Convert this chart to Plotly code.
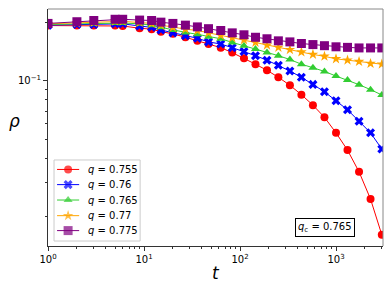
import plotly.graph_objects as go

t = [1, 2, 3, 5, 6, 9, 12, 15, 20, 27, 36, 47, 63, 83, 110, 145, 191, 251, 331, 436, 575, 758, 1000, 1318, 1738, 2290, 3000]

rho_0755 = [0.193, 0.193, 0.193, 0.193, 0.192, 0.187, 0.185, 0.1795, 0.175, 0.168, 0.161, 0.155, 0.1485, 0.140, 0.131, 0.122, 0.1135, 0.1045, 0.095, 0.085, 0.075, 0.065, 0.054, 0.044, 0.034, 0.0246, 0.0161]
rho_0760 = [0.194, 0.1955, 0.1955, 0.197, 0.197, 0.192, 0.189, 0.183, 0.177, 0.171, 0.166, 0.159, 0.155, 0.1485, 0.142, 0.135, 0.128, 0.1205, 0.1125, 0.1045, 0.096, 0.088, 0.079, 0.071, 0.062, 0.054, 0.0446]
rho_0765 = [0.1955, 0.197, 0.198, 0.199, 0.199, 0.197, 0.194, 0.189, 0.183, 0.178, 0.174, 0.169, 0.165, 0.158, 0.152, 0.146, 0.140, 0.135, 0.129, 0.122, 0.117, 0.112, 0.106, 0.101, 0.0957, 0.0902, 0.0847]
rho_0770 = [0.197, 0.199, 0.200, 0.203, 0.203, 0.200, 0.198, 0.194, 0.189, 0.185, 0.182, 0.177, 0.172, 0.167, 0.163, 0.158, 0.153, 0.149, 0.145, 0.141, 0.137, 0.134, 0.130, 0.128, 0.126, 0.123, 0.122]
rho_0775 = [0.198, 0.202, 0.205, 0.208, 0.208, 0.206, 0.205, 0.201, 0.198, 0.194, 0.190, 0.186, 0.182, 0.177, 0.173, 0.168, 0.165, 0.161, 0.159, 0.156, 0.154, 0.152, 0.150, 0.149, 0.148, 0.148, 0.148]

q_labels = ["0.755", "0.76", "0.765", "0.77", "0.775"]
series = [rho_0755, rho_0760, rho_0765, rho_0770, rho_0775]
colors = ["#ff0000", "#0000ff", "#32cd32", "#ffa500", "#800080"]
symbols = ["circle", "x", "triangle-up", "star", "square"]
sizes = [8, 8, 8, 8, 9]

x_major = [1, 10, 100, 1000]
x_major_text = ["10<sup>0</sup>", "10<sup>1</sup>", "10<sup>2</sup>", "10<sup>3</sup>"]
y_major = [0.1]
y_major_text = ["10<sup>\u22121</sup>"]

fig = go.Figure()
for q, ys, c, s, sz in zip(q_labels, series, colors, symbols, sizes):
    fig.add_trace(go.Scatter(
        x=t, y=ys, mode="lines+markers", name=f"<i>q</i> = {q}", showlegend=False,
        line=dict(color=c, width=1),
        marker=dict(color=c, symbol=s, size=sz, line=dict(width=0)),
    ))

# ---- compact legend drawn on an overlay axis spanning the plot area (0..1 fractions) ----
LEG_X0, LEG_X1, LEG_Y0, LEG_Y1 = 0.018, 0.275, 0.021, 0.363
SAMPLE_X = [0.027, 0.060, 0.093]
TEXT_X = 0.113
ROW_Y = [0.323, 0.259, 0.194, 0.128, 0.065]

fig.add_trace(go.Scatter(
    x=[LEG_X0, LEG_X1, LEG_X1, LEG_X0, LEG_X0], y=[LEG_Y0, LEG_Y0, LEG_Y1, LEG_Y1, LEG_Y0],
    mode="lines", fill="toself", fillcolor="rgba(255,255,255,0.92)",
    line=dict(color="#cccccc", width=1), xaxis="x2", yaxis="y2",
    showlegend=False, hoverinfo="skip"))
annotations = []
for q, c, s, sz, ry in zip(q_labels, colors, symbols, sizes, ROW_Y):
    fig.add_trace(go.Scatter(
        x=SAMPLE_X, y=[ry] * 3, mode="lines+markers", xaxis="x2", yaxis="y2",
        line=dict(color=c, width=1),
        marker=dict(color=c, symbol=s, size=[0, sz, 0], line=dict(width=0)),
        showlegend=False, hoverinfo="skip"))
    annotations.append(dict(text=f"<i>q</i> = {q}", xref="x2", yref="y2", x=TEXT_X, y=ry,
                            xanchor="left", yanchor="middle", showarrow=False,
                            font=dict(size=10)))

x_minor = [m * 10 ** k for k in range(4) for m in range(2, 10) if m * 10 ** k <= 3100]
y_minor = [m / 100 for m in range(2, 10)] + [0.2]

font = "DejaVu Sans"
annotations += [
    dict(text="<i>t</i>", xref="paper", yref="paper", x=0.5, y=-0.114,
         xanchor="center", yanchor="middle", showarrow=False, font=dict(size=17, family=font)),
    dict(text="<i>\u03c1</i>", xref="paper", yref="paper", x=-0.1, y=0.527,
         xanchor="center", yanchor="middle", showarrow=False, font=dict(size=17, family=font)),
    dict(text="<i>q</i><sub>c</sub> = 0.765", xref="paper", yref="paper", x=0.827, y=0.078,
         xanchor="center", yanchor="middle", showarrow=False, font=dict(size=10, family=font),
         bordercolor="black", borderwidth=1, borderpad=2, bgcolor="white"),
]

# the page body adds an 8px offset, so the figure is sized to fit the 392x294 window
fig.update_layout(
    width=384, height=286,
    margin=dict(l=40, r=9, t=1, b=48, autoexpand=False),
    paper_bgcolor="white", plot_bgcolor="white",
    font=dict(family=font, size=10, color="black"),
    showlegend=False,
    xaxis=dict(type="log", range=[0, 3.4896], showgrid=False, zeroline=False, automargin=False,
               showline=True, linecolor="#333333", linewidth=1,
               tickvals=x_major, ticktext=x_major_text, ticks="outside", ticklen=4,
               tickcolor="#333333",
               minor=dict(tickvals=x_minor, ticks="outside", ticklen=2, tickcolor="#333333")),
    yaxis=dict(type="log", range=[-1.851, -0.629], showgrid=False, zeroline=False, automargin=False,
               showline=True, linecolor="#333333", linewidth=1,
               tickvals=y_major, ticktext=y_major_text, ticks="outside", ticklen=4,
               tickcolor="#333333",
               minor=dict(tickvals=y_minor, ticks="outside", ticklen=2, tickcolor="#333333")),
    xaxis2=dict(overlaying="x", range=[0, 1], visible=False, fixedrange=True),
    yaxis2=dict(overlaying="y", range=[0, 1], visible=False, fixedrange=True),
    shapes=[
        dict(type="line", xref="paper", yref="paper", x0=0, x1=1, y0=1, y1=1,
             line=dict(color="#888888", width=1)),
        dict(type="line", xref="paper", yref="paper", x0=1, x1=1, y0=0, y1=1,
             line=dict(color="#888888", width=1)),
    ],
    annotations=annotations,
)

fig.write_html("out.html")
